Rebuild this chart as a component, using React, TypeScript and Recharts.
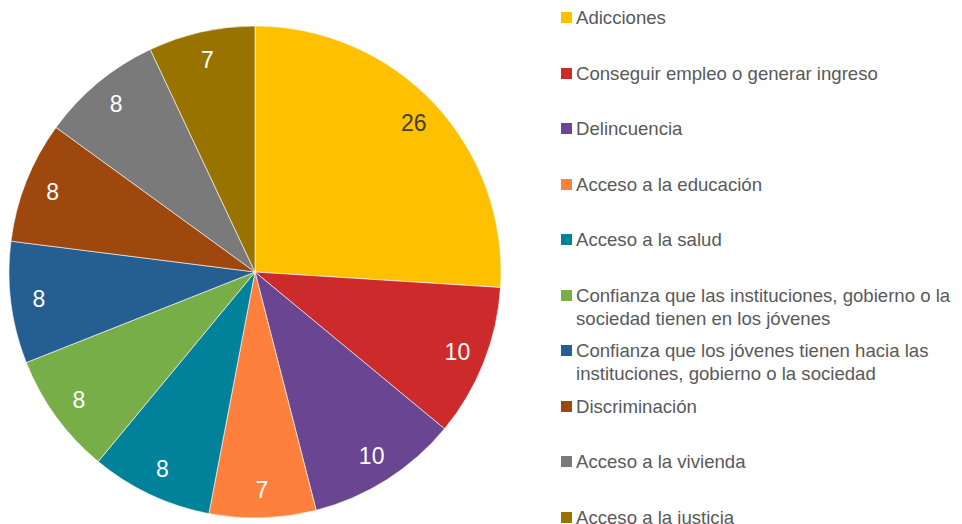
import React from "react";
import { PieChart, Pie, Cell, Legend } from "recharts";

const categories = [
  "Adicciones",
  "Conseguir empleo o generar ingreso",
  "Delincuencia",
  "Acceso a la educación",
  "Acceso a la salud",
  "Confianza que las instituciones, gobierno o la\nsociedad tienen en los jóvenes",
  "Confianza que los jóvenes tienen hacia las\ninstituciones, gobierno o la sociedad",
  "Discriminación",
  "Acceso a la vivienda",
  "Acceso a la justicia",
];
const values = [26, 10, 10, 7, 8, 8, 8, 8, 8, 7];
const colors = [
  "#FFC000",
  "#CC2A2B",
  "#6A4591",
  "#FF7F3C",
  "#01829A",
  "#77AE48",
  "#255E91",
  "#9E480E",
  "#7A7A7A",
  "#997300",
];
const labelColors = [
  "#404040",
  "#ffffff",
  "#ffffff",
  "#ffffff",
  "#ffffff",
  "#ffffff",
  "#ffffff",
  "#ffffff",
  "#ffffff",
  "#ffffff",
];

const data = categories.map((name, i) => ({
  name,
  value: values[i],
  color: colors[i],
  labelColor: labelColors[i],
}));

const FONT = "'Liberation Sans', Arial, Helvetica, sans-serif";

const renderLabel = (props: any) => {
  const { cx, cy, midAngle, outerRadius, value, index } = props;
  const RAD = Math.PI / 180;
  const r = outerRadius * 0.885;
  const x = cx + r * Math.cos(-midAngle * RAD);
  const y = cy + r * Math.sin(-midAngle * RAD);
  return (
    <text
      x={x}
      y={y}
      fill={data[index].labelColor}
      textAnchor="middle"
      dominantBaseline="central"
      fontSize={23}
      fontFamily={FONT}
    >
      {value}
    </text>
  );
};

const LegendContent = () => (
  <div style={{ position: "relative", width: 400, height: 524, fontFamily: FONT }}>
    {data.map((d, i) => (
      <div
        key={d.name}
        style={{
          position: "absolute",
          left: 0,
          top: 6 + 55.5 * i,
          display: "flex",
          alignItems: "flex-start",
          fontSize: 18.6,
          lineHeight: "23px",
          color: "#595959",
          whiteSpace: "pre-line",
          textAlign: "left",
        }}
      >
        <span
          style={{
            display: "inline-block",
            width: 11,
            height: 11,
            background: d.color,
            marginTop: 6,
            marginRight: 4,
            flex: "none",
          }}
        />
        <span>{d.name}</span>
      </div>
    ))}
  </div>
);

export default function App() {
  return (
    <div style={{ position: "absolute", left: 0, top: 0, background: "#fff" }}>
      <PieChart width={962} height={524} margin={{ top: 0, right: 0, bottom: 0, left: 0 }}>
        <Pie
          data={data}
          dataKey="value"
          nameKey="name"
          cx={255}
          cy={272}
          outerRadius={246}
          startAngle={90}
          endAngle={-270}
          stroke="#ffffff"
          strokeWidth={0.6}
          isAnimationActive={false}
          label={renderLabel}
          labelLine={false}
        >
          {data.map((d) => (
            <Cell key={d.name} fill={d.color} />
          ))}
        </Pie>
        <Legend
          content={<LegendContent />}
          wrapperStyle={{ position: "absolute", left: 561, top: 0, width: 400, height: 524 }}
        />
      </PieChart>
    </div>
  );
}
